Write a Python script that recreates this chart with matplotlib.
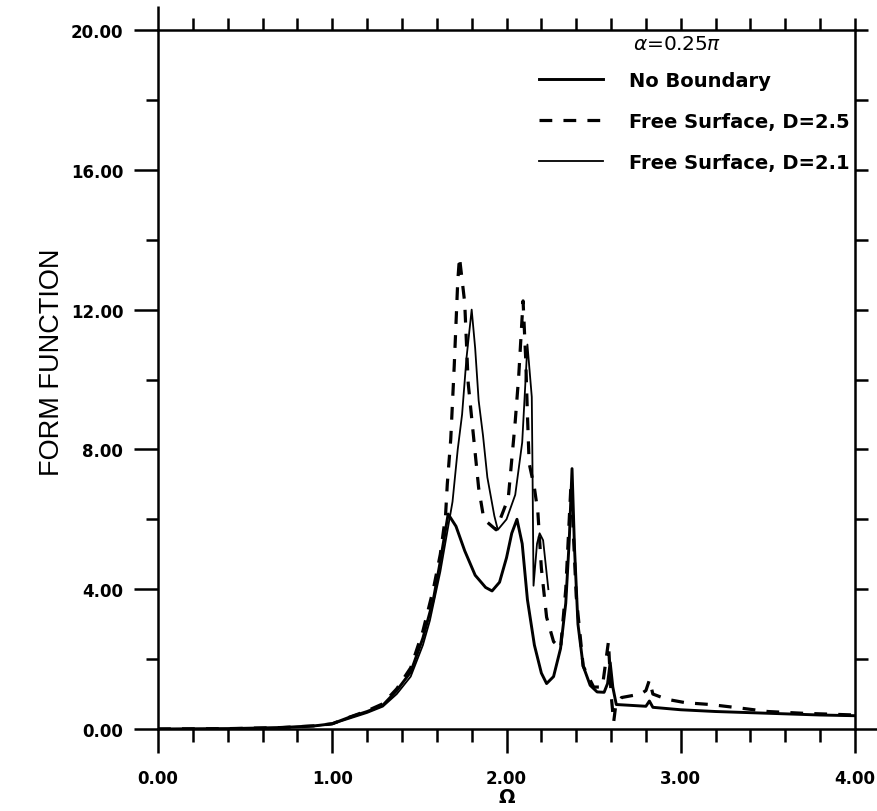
import numpy as np
import matplotlib
matplotlib.use('Agg')
import matplotlib.pyplot as plt
from matplotlib.ticker import MultipleLocator, FormatStrFormatter

plt.rcParams['font.family'] = ['DejaVu Sans']

# Datos: No Boundary (linea gruesa)
om_nb = [0.0, 0.4, 0.7, 0.9, 1.0, 1.1, 1.2, 1.29, 1.37, 1.45, 1.52, 1.58, 1.62, 1.665,
         1.71, 1.76, 1.82, 1.88, 1.917, 1.96, 2.0, 2.03, 2.06, 2.09, 2.12, 2.16, 2.2,
         2.23, 2.27, 2.31, 2.34, 2.36, 2.376, 2.39, 2.41, 2.44, 2.48, 2.52, 2.56, 2.58,
         2.595, 2.61, 2.63, 2.7, 2.8, 2.82, 2.84, 3.0, 3.2, 3.5, 3.8, 4.0]
ff_nb = [0.0, 0.01, 0.04, 0.09, 0.15, 0.34, 0.5, 0.68, 1.1, 1.63, 2.6, 3.7, 4.8, 6.15,
         5.8, 5.1, 4.4, 4.05, 3.95, 4.2, 4.9, 5.6, 6.0, 5.3, 3.7, 2.4, 1.6,
         1.3, 1.5, 2.3, 3.6, 5.4, 7.45, 5.2, 3.0, 1.8, 1.25, 1.06, 1.05, 1.3,
         1.9, 1.2, 0.7, 0.68, 0.65, 0.8, 0.62, 0.55, 0.5, 0.45, 0.4, 0.38]

# Free Surface, D=2.5 (discontinua)
om_25 = [0.0, 0.4, 0.7, 0.9, 1.0, 1.1, 1.2, 1.29, 1.37, 1.45, 1.52, 1.58, 1.62, 1.65,
         1.66, 1.68, 1.70, 1.72, 1.73, 1.76, 1.78, 1.81, 1.84, 1.87, 1.94, 2.01, 2.05,
         2.07, 2.095, 2.11, 2.12, 2.13, 2.16, 2.18, 2.20, 2.23, 2.27, 2.31, 2.34, 2.36,
         2.37, 2.38, 2.40, 2.44, 2.50, 2.55, 2.585, 2.60, 2.615, 2.625, 2.66, 2.77,
         2.80, 2.82, 2.84, 2.92, 3.03, 3.17, 3.34, 3.5, 3.7, 4.0]
ff_25 = [0.0, 0.01, 0.04, 0.09, 0.15, 0.34, 0.52, 0.72, 1.15, 1.75, 2.8, 4.0, 5.0, 6.1,
         7.0, 8.3, 10.4, 12.8, 13.5, 12.2, 9.9, 8.4, 6.9, 6.0, 5.7, 6.6, 8.8,
         10.1, 12.25, 10.6, 9.0, 7.6, 6.9, 6.2, 4.6, 3.2, 2.5, 2.3, 4.0, 6.0,
         7.0, 6.0, 3.8, 1.8, 1.2, 1.2, 2.5, 1.0, 0.2, 0.6, 0.9, 1.0,
         1.1, 1.4, 1.0, 0.85, 0.75, 0.7, 0.6, 0.5, 0.45, 0.4]

# Free Surface, D=2.1 (linea fina)
om_21 = [0.0, 0.4, 0.7, 0.9, 1.0, 1.1, 1.2, 1.29, 1.37, 1.45, 1.52, 1.56, 1.62, 1.69,
         1.72, 1.745, 1.77, 1.80, 1.82, 1.84, 1.865, 1.89, 1.93, 1.95, 2.0, 2.05, 2.09,
         2.12, 2.145, 2.149, 2.155, 2.175, 2.19, 2.21, 2.24]
ff_21 = [0.0, 0.01, 0.04, 0.09, 0.14, 0.3, 0.46, 0.64, 1.0, 1.5, 2.4, 3.1, 4.5, 6.5,
         8.0, 9.0, 10.6, 12.0, 10.9, 9.4, 8.4, 7.2, 6.1, 5.7, 6.0, 6.7, 8.2,
         11.0, 9.5, 7.5, 4.1, 5.3, 5.6, 5.4, 4.0]

fig = plt.figure(figsize=(8.78, 8.12), dpi=100)
ax = fig.add_axes([0.18, 0.101, 0.7938, 0.8608])

ax.plot(om_nb, ff_nb, color='black', lw=2.1, label='No Boundary')
ax.plot(om_25, ff_25, color='black', lw=2.3, ls=(0, (4, 3.5)), label='Free Surface, D=2.5')
ax.plot(om_21, ff_21, color='black', lw=1.3, label='Free Surface, D=2.1')

ax.set_xlim(0, 4)
ax.set_ylim(0, 20)

ax.xaxis.set_major_locator(MultipleLocator(1.0))
ax.xaxis.set_minor_locator(MultipleLocator(0.2))
ax.yaxis.set_major_locator(MultipleLocator(4.0))
ax.yaxis.set_minor_locator(MultipleLocator(2.0))
ax.xaxis.set_major_formatter(FormatStrFormatter('%.2f'))
ax.yaxis.set_major_formatter(FormatStrFormatter('%.2f'))

for s in ax.spines.values():
    s.set_linewidth(1.8)

ax.tick_params(which='both', direction='out', width=1.8, top=True, right=True,
               labeltop=False, labelright=False, labelsize=12)
ax.tick_params(which='major', length=17)
ax.tick_params(which='minor', length=9)
ax.tick_params(axis='x', which='major', pad=12)
ax.tick_params(axis='y', which='major', pad=8)

ax.set_xlabel('Ω', fontsize=14, fontweight='bold', labelpad=0)
ax.set_ylabel('FORM FUNCTION', fontsize=19.5, family='Liberation Sans', va='center')
ax.yaxis.set_label_coords(-0.152, 0.526)

ax.text(0.681, 0.98, r'$\alpha$=0.25$\pi$', transform=ax.transAxes, fontsize=14.5,
        ha='left', va='center')

leg = ax.legend(loc='upper left', bbox_to_anchor=(0.547, 0.942), frameon=False,
                borderaxespad=0, borderpad=0,
                handlelength=3.3, labelspacing=1.15, handletextpad=1.3,
                prop={'weight': 'bold', 'size': 14})

# dibujar una vez para crear todas las marcas y luego ajustarlas
fig.canvas.draw()
for t in ax.xaxis.get_major_ticks():
    t.tick2line.set_markersize(9 if abs(t.get_loc()) > 1e-9 else 17)
for t in ax.yaxis.get_major_ticks():
    t.tick2line.set_markersize(9 if abs(t.get_loc()) > 1e-9 else 17)
for lab in ax.get_xticklabels() + ax.get_yticklabels():
    lab.set_fontweight('bold')

plt.savefig('out.png', dpi=100)
